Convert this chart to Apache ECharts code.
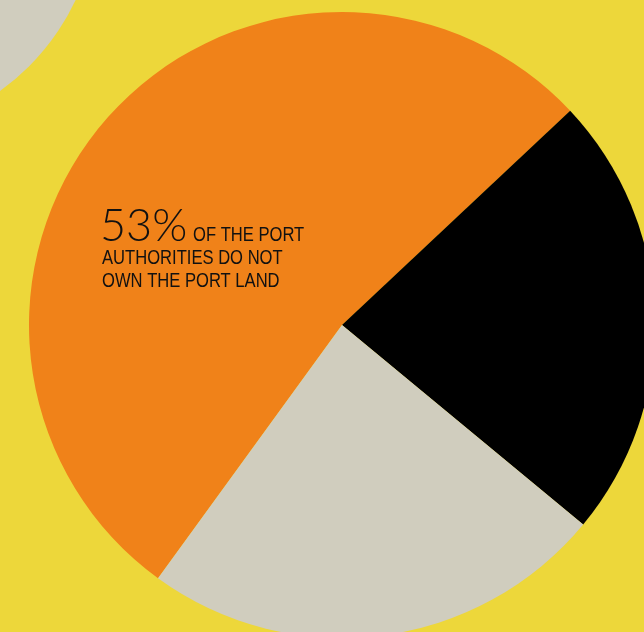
<!DOCTYPE html>
<html>
<head>
<meta charset="utf-8">
<script src="https://cdn.jsdelivr.net/npm/echarts@6/dist/echarts.min.js"></script>
<style>
  html, body { margin: 0; padding: 0; background: #EDD73A; }
  #chart { width: 644px; height: 632px; }
</style>
</head>
<body>
<div id="chart"></div>
<script>
// Share of port authorities by land ownership
const categories = ['Do not own the port land', 'Own the port land', 'Other arrangements'];
const values = [53, 23, 24];
const colors = ['#F08219', '#000000', '#D0CDBE'];
const captionLines = ['OF THE PORT', 'AUTHORITIES DO NOT', 'OWN THE PORT LAND'];

const chart = echarts.init(document.getElementById('chart'), null, { renderer: 'canvas' });

// condensed caption: regular sans squeezed horizontally
const capFont = '21px "Liberation Sans", Arial, sans-serif';
const capScale = [0.79, 1];

chart.setOption({
  backgroundColor: '#EDD73A',
  animation: false,
  graphic: [
    // decorative disc in the upper-left corner
    { type: 'circle', z: 0, shape: { cx: -137, cy: -100, r: 235 }, style: { fill: '#D0CDBE' }, silent: true },
    {
      type: 'text', z: 100, x: 100, y: 226,
      style: { text: values[0] + '%', font: '300 45px Lato, "Open Sans", sans-serif', fill: '#111', verticalAlign: 'middle' }
    },
    {
      type: 'text', z: 100, x: 193, y: 235.5, scaleX: capScale[0], scaleY: capScale[1],
      style: { text: captionLines[0], font: capFont, fill: '#111', verticalAlign: 'middle' }
    },
    {
      type: 'text', z: 100, x: 102, y: 258.5, scaleX: capScale[0], scaleY: capScale[1],
      style: { text: captionLines[1], font: capFont, fill: '#111', verticalAlign: 'middle' }
    },
    {
      type: 'text', z: 100, x: 102, y: 281, scaleX: capScale[0], scaleY: capScale[1],
      style: { text: captionLines[2], font: capFont, fill: '#111', verticalAlign: 'middle' }
    }
  ],
  series: [{
    type: 'pie',
    center: [342, 325],
    radius: 313,
    startAngle: 234,
    clockwise: true,
    silent: true,
    label: { show: false },
    labelLine: { show: false },
    itemStyle: { borderWidth: 0 },
    emphasis: { disabled: true },
    data: categories.map((name, i) => ({ name, value: values[i], itemStyle: { color: colors[i] } }))
  }]
});
</script>
</body>
</html>
